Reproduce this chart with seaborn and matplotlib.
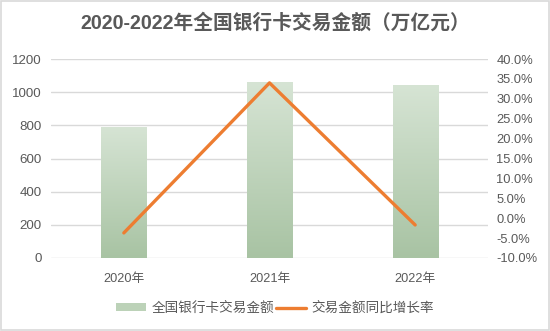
import numpy as np
import pandas as pd
import matplotlib
matplotlib.use("Agg")
import matplotlib.pyplot as plt
import seaborn as sns
from matplotlib.patches import Patch, Rectangle
from matplotlib.lines import Line2D
from matplotlib.colors import LinearSegmentedColormap
from matplotlib.ticker import FuncFormatter

years = ["2020年", "2021年", "2022年"]
amounts = [790, 1061, 1043]
growth = [-3.7, 34.0, -1.7]
title = "2020-2022年全国银行卡交易金额（万亿元）"
bar_label = "全国银行卡交易金额"
line_label = "交易金额同比增长率"

sns.set_theme(style="white")
plt.rcParams['font.family'] = ['Liberation Sans', 'Noto Sans CJK SC', 'DejaVu Sans']

fig = plt.figure(figsize=(5.5, 3.31), dpi=100)
ax = fig.add_axes([51/550, 1-258/331, (488-51)/550, (258-59)/331])
fig.patches.append(Rectangle((0.001, 0.002), 0.997, 0.995, transform=fig.transFigure,
                             fill=False, edgecolor='#d9d9d9', lw=1.2))

df = pd.DataFrame({"year": years, "amount": amounts})
sns.barplot(data=df, x="year", y="amount", ax=ax, width=0.31, color='#bcd2b8',
            saturation=1, edgecolor='none')
ax.set_yticks(np.arange(0, 1201, 200))
ax.yaxis.grid(True, color='#d9d9d9', lw=1)
ax.set_axisbelow(True)
for s in ax.spines.values():
    s.set_visible(False)
ax.set_xlabel("")
ax.set_ylabel("")
ax.tick_params(axis='x', length=0, labelsize=9.2, colors='#595959', pad=11)
ax.tick_params(axis='y', length=0, labelsize=9.6, colors='#595959', pad=6.5)

# gradient fill for bars
cmap = LinearSegmentedColormap.from_list("g", ['#a8c3a3', '#d6e4d4'])
grad = np.linspace(0, 1, 256).reshape(-1, 1)
for p in ax.patches:
    x0, y0 = p.get_x(), p.get_y()
    w, h = p.get_width(), p.get_height()
    im = ax.imshow(grad, extent=[x0, x0 + w, y0, y0 + h], origin='lower',
                   cmap=cmap, aspect='auto', zorder=2)
    im.set_clip_path(p)
    p.set_facecolor('none')
ax.set_xlim(-0.5, 2.5)
ax.set_ylim(0, 1200)

ax2 = ax.twinx()
sns.lineplot(x=np.arange(len(years)), y=growth, ax=ax2, color='#ED7D31', lw=2.4)
ax2.set_ylim(-10, 40)
ax2.set_yticks(np.arange(-10, 40.1, 5))
ax2.yaxis.set_major_formatter(FuncFormatter(lambda v, p: f"{v:.1f}%"))
for s in ax2.spines.values():
    s.set_visible(False)
ax2.tick_params(axis='y', length=0, labelsize=9.3, colors='#595959', pad=6)
ax2.set_xlim(-0.5, 2.5)

fig.text(0.5, 1-23/331, title, ha='center', va='center', fontsize=14.2,
         color='#595959', fontweight='bold', family=['Liberation Sans', 'Noto Sans CJK SC', 'DejaVu Sans'])

handles = [Patch(facecolor='#bcd2b8', edgecolor='none'),
           Line2D([0], [0], color='#ED7D31', lw=2.4)]
fig.legend(handles, [bar_label, line_label], loc='center', bbox_to_anchor=(0.5, 1-308/331),
           ncol=2, frameon=False, fontsize=9.8, labelcolor='#595959',
           handlelength=2.2, handleheight=0.55, columnspacing=0.1, handletextpad=0.4)

fig.savefig("out.png", dpi=100)
